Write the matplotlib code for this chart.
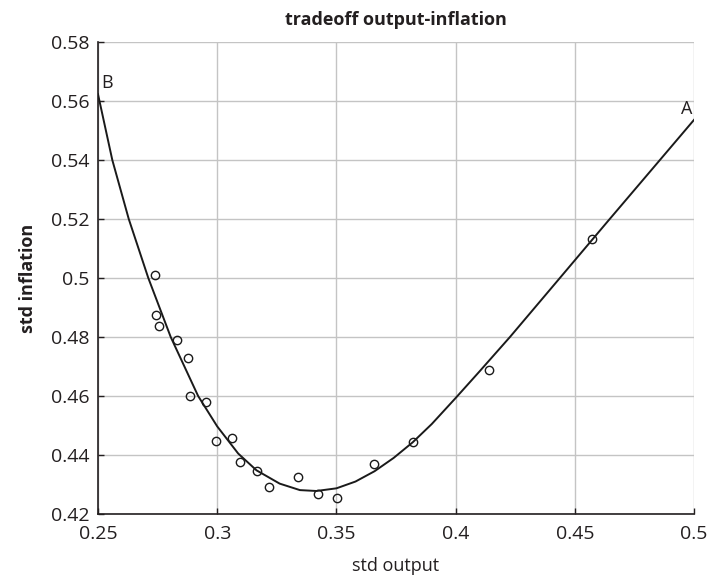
import matplotlib
matplotlib.use("Agg")
import matplotlib.pyplot as plt

plt.rcParams['font.family'] = ['Open Sans', 'DejaVu Sans']

# scatter points (std output, std inflation)
pts_x = [0.2739, 0.2743, 0.2757, 0.2831, 0.2876, 0.2888, 0.2952, 0.2996, 0.3063,
         0.3095, 0.3165, 0.3218, 0.3340, 0.3424, 0.3503, 0.3658, 0.3820, 0.4139, 0.4573]
pts_y = [0.5010, 0.4876, 0.4836, 0.4789, 0.4729, 0.4600, 0.4578, 0.4446, 0.4456,
         0.4375, 0.4346, 0.4290, 0.4326, 0.4269, 0.4254, 0.4370, 0.4445, 0.4687, 0.5132]

# fitted tradeoff curve
curve_x = [0.2500, 0.2560, 0.2629, 0.2711, 0.2805, 0.2920, 0.3000, 0.3088, 0.3165,
           0.3262, 0.3347, 0.3416, 0.3500, 0.3580, 0.3660, 0.3740, 0.3820, 0.3900,
           0.4000, 0.4100, 0.4228, 0.4430, 0.4636, 0.4857, 0.5000]
curve_y = [0.5623, 0.5400, 0.5200, 0.5000, 0.4800, 0.4600, 0.4497, 0.4405, 0.4348,
           0.4303, 0.4281, 0.4278, 0.4287, 0.4310, 0.4345, 0.4390, 0.4443, 0.4505,
           0.4593, 0.4683, 0.4800, 0.4993, 0.5190, 0.5400, 0.5536]

xticks = [0.25, 0.3, 0.35, 0.4, 0.45, 0.5]
xticklabels = ['0.25', '0.3', '0.35', '0.4', '0.45', '0.5']
yticks = [0.42, 0.44, 0.46, 0.48, 0.50, 0.52, 0.54, 0.56, 0.58]
yticklabels = ['0.42', '0.44', '0.46', '0.48', '0.5', '0.52', '0.54', '0.56', '0.58']

txt = '#231f20'

fig = plt.figure(figsize=(7.11, 5.78), dpi=100)
ax = fig.add_axes([98/711, 1-514/578, (694-98)/711, (514-42)/578])

ax.plot(curve_x, curve_y, color='#1a1a1a', lw=1.4, zorder=3,
        solid_joinstyle='round')
ax.plot(pts_x, pts_y, linestyle='none', marker='o', markersize=6,
        markerfacecolor='none', markeredgecolor='#1a1a1a', markeredgewidth=1.0, zorder=4)

ax.set_xlim(0.25, 0.5)
ax.set_ylim(0.42, 0.58)
ax.set_xticks(xticks)
ax.set_xticklabels(xticklabels)
ax.set_yticks(yticks)
ax.set_yticklabels(yticklabels)
ax.grid(True, color='#c4c4c4', lw=1.0)
ax.set_axisbelow(True)

for s in ['top', 'right']:
    ax.spines[s].set_visible(False)
for s in ['left', 'bottom']:
    ax.spines[s].set_color('#231f20')
    ax.spines[s].set_linewidth(1.2)

ax.tick_params(direction='in', length=4, width=1.0, colors=txt, labelsize=14)
ax.tick_params(axis='y', pad=6)
ax.tick_params(axis='x', pad=8)

ax.set_title('tradeoff output-inflation', fontsize=13, fontweight='bold', color=txt, pad=12)
ax.set_xlabel('std output', fontsize=13, color=txt, labelpad=10)
ax.set_ylabel('std inflation', fontsize=13, fontweight='bold', color=txt, labelpad=10)

ax.text(0.2513, 0.5643, 'B', fontsize=13, color=txt, ha='left', va='baseline')
ax.text(0.4992, 0.5555, 'A', fontsize=13, color=txt, ha='right', va='baseline')

fig.savefig('out.png', dpi=100)
